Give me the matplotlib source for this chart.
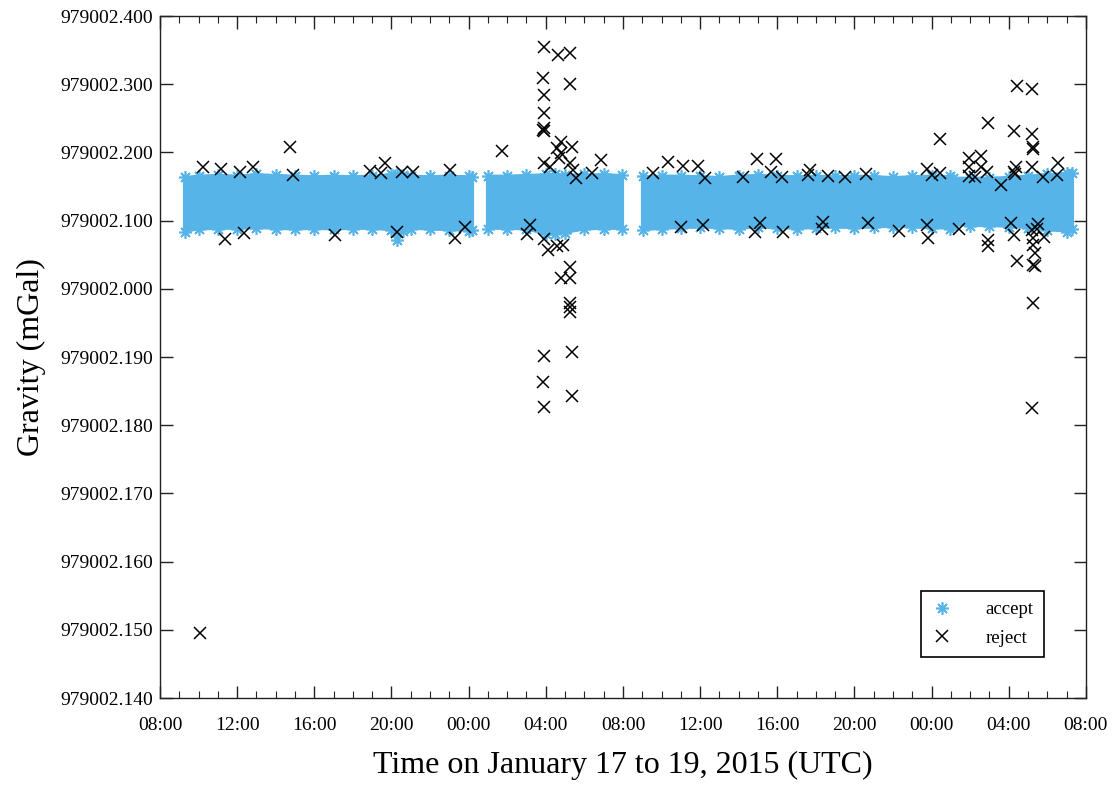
import numpy as np
import pandas as pd
import matplotlib
matplotlib.use('Agg')
import matplotlib.pyplot as plt
import matplotlib.dates as mdates

plt.rcParams['font.family'] = ['Liberation Serif', 'DejaVu Serif']

# tempo em horas desde 2015-01-17 00:00 UTC
t0 = pd.Timestamp('2015-01-17 00:00')

# envelope da faixa aceita (4 trechos)
acc_h1 = [9.3, 10, 11, 12, 13, 14, 15, 16, 17, 18, 19, 20, 20.3, 20.6, 21, 22, 23, 24, 24.2]
acc_up1 = [2.164, 2.166, 2.167, 2.166, 2.168, 2.167, 2.166, 2.165, 2.166, 2.165, 2.166, 2.168, 2.169, 2.167, 2.166, 2.165, 2.166, 2.165, 2.164]
acc_lo1 = [2.084, 2.087, 2.088, 2.088, 2.089, 2.088, 2.087, 2.088, 2.087, 2.088, 2.088, 2.086, 2.072, 2.085, 2.088, 2.087, 2.086, 2.085, 2.086]

acc_h2 = [25.0, 26, 27, 28, 28.5, 29, 30, 31, 31.95]
acc_up2 = [2.166, 2.166, 2.167, 2.168, 2.169, 2.167, 2.168, 2.168, 2.167]
acc_lo2 = [2.088, 2.088, 2.087, 2.080, 2.081, 2.082, 2.087, 2.088, 2.088]

acc_h3 = [33.04, 34, 35, 36, 37, 38, 39, 40, 41, 42, 43, 44, 45, 46, 47, 48, 48.95]
acc_up3 = [2.165, 2.166, 2.166, 2.165, 2.164, 2.166, 2.167, 2.166, 2.165, 2.166, 2.165, 2.166, 2.165, 2.164, 2.165, 2.166, 2.165]
acc_lo3 = [2.086, 2.088, 2.089, 2.090, 2.089, 2.088, 2.090, 2.089, 2.088, 2.089, 2.090, 2.089, 2.090, 2.091, 2.090, 2.089, 2.088]

acc_h4 = [49.11, 50, 51, 52, 53, 54, 55, 55.28]
acc_up4 = [2.163, 2.163, 2.163, 2.164, 2.166, 2.168, 2.170, 2.170]
acc_lo4 = [2.094, 2.092, 2.092, 2.091, 2.089, 2.086, 2.084, 2.087]

# pontos rejeitados
rej_h = [10.23, 11.16, 12.15, 12.82, 14.74, 14.89, 18.89, 19.46, 19.66, 20.55, 21.12, 23.03,
         11.37, 12.35, 17.07, 20.29, 23.29, 23.81, 10.07,
         27.91, 28.63, 29.26, 27.86, 29.26, 27.91, 27.91, 27.91, 27.91, 27.86, 25.73, 28.79,
         28.58, 29.36, 28.79, 28.68, 27.91, 28.22, 29.26, 29.41, 29.57, 30.86, 30.40,
         27.18, 27.03, 27.91, 28.11, 28.58, 28.89, 29.26, 28.79, 29.26, 29.26, 29.26, 29.26,
         29.36, 27.91, 27.86, 29.36, 27.91,
         33.56, 34.34, 35.11, 35.89, 36.25, 38.22, 38.95, 39.93, 39.67, 40.24, 41.70, 41.59,
         42.63, 43.51, 44.60, 47.76, 48.02, 48.44, 48.44, 35.01, 36.15, 39.10, 38.85, 40.30,
         42.37, 42.32, 44.70, 46.31, 47.76, 47.81,
         52.43, 53.21, 50.92, 52.27, 53.21, 53.26, 53.26, 49.94, 50.56, 49.94, 50.56, 49.94,
         50.25, 50.87, 51.60, 52.38, 52.27, 52.32, 53.21, 53.78, 54.55, 54.50, 49.42, 50.92,
         50.92, 52.12, 52.27, 52.43, 53.21, 53.52, 53.46, 53.26, 53.83, 53.26, 53.36, 53.26,
         53.36, 53.26, 53.21]
rej_g = [2.179, 2.176, 2.171, 2.179, 2.208, 2.167, 2.173, 2.170, 2.184, 2.171, 2.171, 2.174,
         2.073, 2.082, 2.079, 2.083, 2.074, 2.091, 1.495,
         2.355, 2.343, 2.346, 2.309, 2.300, 2.284, 2.258, 2.236, 2.231, 2.233, 2.202, 2.215,
         2.206, 2.208, 2.199, 2.192, 2.184, 2.179, 2.184, 2.174, 2.162, 2.189, 2.170,
         2.094, 2.080, 2.073, 2.057, 2.063, 2.064, 2.032, 2.016, 2.016, 1.979, 1.973, 1.966,
         1.907, 1.901, 1.863, 1.843, 1.827,
         2.170, 2.186, 2.180, 2.180, 2.162, 2.164, 2.190, 2.190, 2.171, 2.164, 2.174, 2.167,
         2.165, 2.164, 2.168, 2.176, 2.167, 2.170, 2.220, 2.091, 2.094, 2.096, 2.083, 2.083,
         2.098, 2.088, 2.096, 2.085, 2.094, 2.074,
         2.297, 2.293, 2.243, 2.231, 2.227, 2.208, 2.205, 2.192, 2.195, 2.179, 2.179, 2.165,
         2.164, 2.171, 2.152, 2.179, 2.171, 2.168, 2.179, 2.164, 2.184, 2.167, 2.088, 2.072,
         2.063, 2.096, 2.079, 2.041, 2.086, 2.095, 2.088, 2.074, 2.076, 2.064, 2.052, 2.035,
         2.033, 1.979, 1.825]

# rótulos do eixo y (como aparecem no original)
ytick_vals = [2.4, 2.3, 2.2, 2.1, 2.0, 1.9, 1.8, 1.7, 1.6, 1.5, 1.4]
ytick_labels = ['979002.400', '979002.300', '979002.200', '979002.100', '979002.000',
                '979002.190', '979002.180', '979002.170', '979002.160', '979002.150',
                '979002.140']

base = 979000.0
blue = '#56B4E9'


def to_time(h):
    return t0 + pd.to_timedelta(np.array(h), unit='h')


fig = plt.figure(figsize=(11.14, 7.85), dpi=100)
ax = fig.add_axes([0.1436, 0.1108, 0.8312, 0.8688])

star = (8, 2, 0)
segs = [(acc_h1, acc_up1, acc_lo1), (acc_h2, acc_up2, acc_lo2),
        (acc_h3, acc_up3, acc_lo3), (acc_h4, acc_up4, acc_lo4)]
for h, up, lo in segs:
    t = to_time(h)
    up = base + np.array(up)
    lo = base + np.array(lo)
    ax.fill_between(t, lo, up, color=blue, linewidth=0, zorder=2)
    ax.plot(t, up, color=blue, lw=1.5, marker=star, ms=9, mew=1.2, zorder=2)
    ax.plot(t, lo, color=blue, lw=1.5, marker=star, ms=9, mew=1.2, zorder=2)
    ax.plot(t[[0, 0]], [lo[0], up[0]], color=blue, lw=3, zorder=2)
    ax.plot(t[[-1, -1]], [lo[-1], up[-1]], color=blue, lw=3, zorder=2)

ax.plot(to_time(rej_h), base + np.array(rej_g), linestyle='none', marker='x',
        color='black', ms=8, mew=1.1, zorder=3)

# legenda
h_acc, = ax.plot([], [], linestyle='none', marker=star, color=blue, ms=9, mew=1.2)
h_rej, = ax.plot([], [], linestyle='none', marker='x', color='black', ms=8, mew=1.1)
leg = ax.legend([h_acc, h_rej], ['accept', 'reject'], loc='lower right',
                bbox_to_anchor=(0.9546, 0.0601), fancybox=False, framealpha=1,
                edgecolor='black', fontsize=13.5, handletextpad=1.7, handlelength=1.2,
                borderpad=0.55, labelspacing=0.6, borderaxespad=0)
leg.get_frame().set_linewidth(1.2)

ax.set_xlim(pd.Timestamp('2015-01-17 08:00'), pd.Timestamp('2015-01-19 08:00'))
ax.xaxis.set_major_locator(mdates.HourLocator(byhour=[0, 4, 8, 12, 16, 20]))
ax.xaxis.set_minor_locator(mdates.HourLocator())
ax.xaxis.set_major_formatter(mdates.DateFormatter('%H:%M'))

ax.set_ylim(base + 1.4, base + 2.4)
ax.set_yticks([base + v for v in ytick_vals])
ax.set_yticklabels(ytick_labels)

ax.tick_params(which='both', direction='in', top=True, right=True, labelsize=14,
               color='#222222')
ax.tick_params(which='major', length=9, width=1)
ax.tick_params(which='minor', length=5, width=0.8)
ax.tick_params(axis='x', pad=14)
ax.tick_params(axis='y', pad=5)
for s in ax.spines.values():
    s.set_linewidth(1)
    s.set_color('#222222')

ax.set_xlabel('Time on January 17 to 19, 2015 (UTC)', fontsize=23, labelpad=12)
ax.set_ylabel('Gravity (mGal)', fontsize=23, labelpad=10)

fig.savefig('out.png', dpi=100)
